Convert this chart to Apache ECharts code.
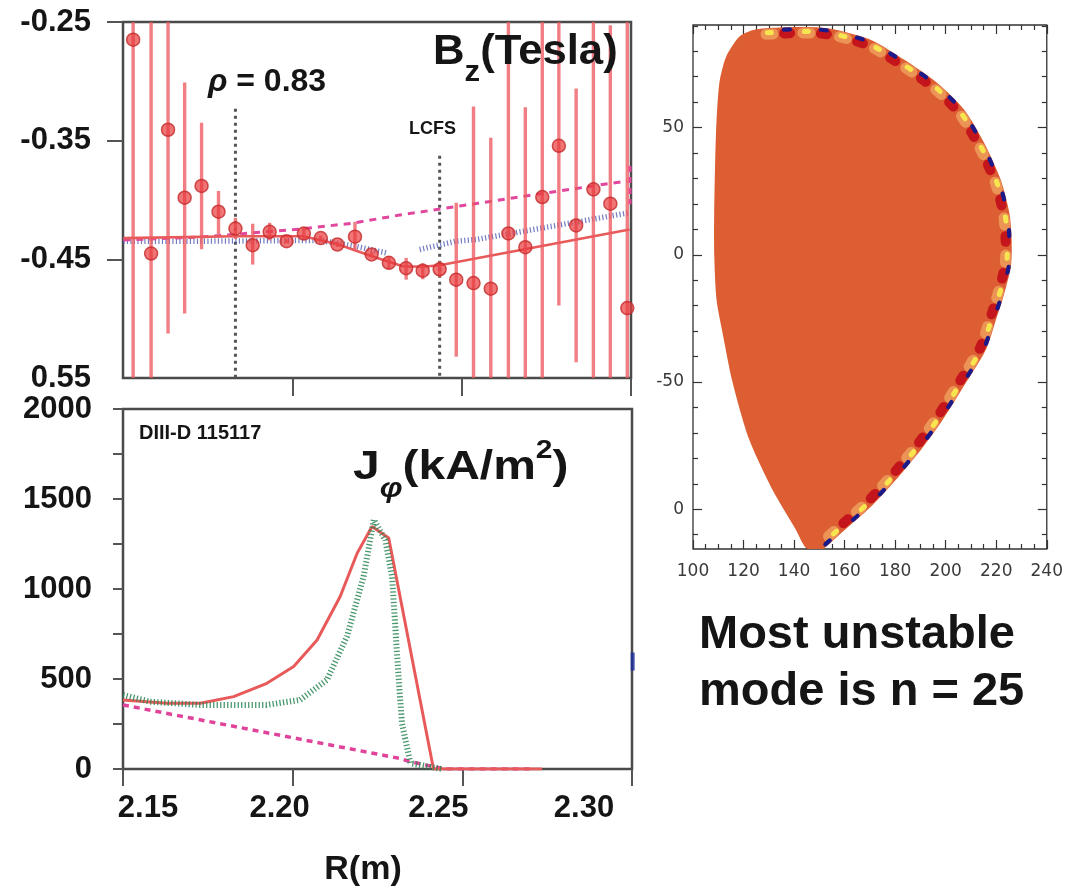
<!DOCTYPE html>
<html><head><meta charset="utf-8">
<script src="https://cdn.jsdelivr.net/npm/echarts@6/dist/echarts.min.js"></script>
<style>html,body{margin:0;padding:0;background:#fff}#c{width:1066px;height:893px}</style>
</head><body><div id="c"></div>
<script>
// ---------- Top panel: Bz (Tesla) ----------
const bzR = [2.1530,2.1583,2.1633,2.1682,2.1732,2.1782,2.1832,2.1883,2.1933,2.1983,2.2034,2.2084,2.2133,2.2185,2.2234,2.2285,2.2336,2.2385,2.2435,2.2484,2.2535,2.2586,2.2638,2.2688,2.2738,2.2787,2.2838,2.2889,2.2939,2.2989];
const bzVal = [-0.2649,-0.4451,-0.3408,-0.3981,-0.3882,-0.4099,-0.4241,-0.4381,-0.4268,-0.4347,-0.4283,-0.4321,-0.4375,-0.4309,-0.4459,-0.4529,-0.4575,-0.4596,-0.4584,-0.4671,-0.4700,-0.4747,-0.4282,-0.4398,-0.3975,-0.3543,-0.4214,-0.3910,-0.4031,-0.4911];
const bzErrLo = [-0.55,-0.55,-0.5125,-0.4956,-0.4415,-0.4288,-0.4330,-0.4544,-0.4340,-0.4365,-0.4338,-0.4340,-0.4395,-0.4431,-0.4480,-0.4584,-0.4671,-0.4668,-0.4651,-0.5320,-0.55,-0.55,-0.55,-0.55,-0.55,-0.4888,-0.5368,-0.55,-0.55,-0.55];
const bzErrHi = [-0.25,-0.25,-0.25,-0.3010,-0.3349,-0.3924,-0.4150,-0.4200,-0.4192,-0.4330,-0.4228,-0.4300,-0.4355,-0.4184,-0.4440,-0.4474,-0.4488,-0.4533,-0.4516,-0.4023,-0.3213,-0.3475,-0.25,-0.3219,-0.25,-0.25,-0.3061,-0.25,-0.2528,-0.25];
const fitSolidR = [2.1501,2.1831,2.2032,2.2132,2.2235,2.2326,2.2385,2.2435,2.2996];
const fitSolidBz = [-0.4321,-0.4305,-0.4305,-0.4370,-0.4474,-0.4558,-0.4563,-0.4550,-0.4248];
const fitDashR = [2.1501,2.1728,2.1875,2.2023,2.2179,2.2317,2.2494,2.2729,2.2989];
const fitDashBz = [-0.4338,-0.4313,-0.4279,-0.4245,-0.4195,-0.4127,-0.4051,-0.3949,-0.3839];
const edgeDashR = [2.2997,2.2997];
const edgeDashBz = [-0.3713,-0.4035];
const fitDotR = [2.1501,2.1728,2.2082,2.2185,2.2278,2.2330,2.2376,2.2484,2.2543,2.2996];
const fitDotBz = [-0.4347,-0.4347,-0.4341,-0.4389,-0.4446,null,-0.4417,-0.4347,-0.4333,-0.4107];
const rhoLineR = [2.1832,2.1832];
const rhoLineBz = [-0.3230,-0.55];
const lcfsLineR = [2.2435,2.2435];
const lcfsLineBz = [-0.3628,-0.55];
const topYTicks = [-0.55,-0.45,-0.35,-0.25];
const topYTickLabels = ['0.55','-0.45','-0.35','-0.25'];

// ---------- Bottom panel: J_phi (kA/m^2) ----------
const jSolidR = [2.1500,2.1630,2.1728,2.1826,2.1924,2.2003,2.2072,2.2140,2.2190,2.2234,2.2283,2.2415,2.2735];
const jSolid = [384,365,365,402,476,569,717,958,1199,1347,1283,0,0];
const jDotR = [2.1500,2.1580,2.1728,2.1924,2.2022,2.2101,2.2160,2.2209,2.2239,2.2273,2.2293,2.2308,2.2322,2.2347,2.2440];
const jDot = [411,374,356,356,384,495,736,1069,1385,1273,1069,624,254,32,0];
const jDashR = [2.1500,2.2315,2.2345,2.2415,2.2450,2.2705];
const jDash = [356,59,41,13,0,0];
const blueMarkR = [2.3002];
const blueMarkJ = [597];
const bottomXTicks = [2.15,2.20,2.25,2.30];
const bottomXTickLabels = ['2.15','2.20','2.25','2.30'];
const bottomYTicks = [0,500,1000,1500,2000];
const bottomYTickLabels = ['0','500','1000','1500','2000'];

// ---------- Right panel: plasma cross-section (R, Z in cm) ----------
const plasmaR = [118.2,123.4,128.8,140.5,150.6,157.6,170.7,183.8,196.9,207.4,215.3,221.8,225.2,226.1,225.8,222.5,219.9,215.9,208.0,198.9,190.3,180.5,170.7,158.9,152.3,149.6,144.6,140.6,131.4,122.2,115.7,111.7,109.3,108.4,108.4,109.1,110.4,113.1];
const plasmaZ = [85.6,88.2,89.0,89.5,89.3,88.2,84.3,76.5,67.3,56.9,43.8,29.4,16.4,5.9,-4.6,-17.6,-25.5,-37.3,-50.3,-64.7,-76.5,-88.2,-98.7,-109.1,-115.0,-117.0,-115.0,-107.8,-92.2,-72.5,-50.3,-30.7,-17.6,0,16.3,47.7,67.3,77.8];
const modeEdgeR = [128.8,140.5,150.6,157.6,170.7,183.8,196.9,207.4,215.3,221.8,225.2,226.1,225.8,222.5,219.9,215.9,208.0,198.9,190.3,180.5,170.7,158.9,152.3];
const modeEdgeZ = [89.0,89.5,89.3,88.2,84.3,76.5,67.3,56.9,43.8,29.4,16.4,5.9,-4.6,-17.6,-25.5,-37.3,-50.3,-64.7,-76.5,-88.2,-98.7,-109.1,-115.0];
const rightXTicks = [100,120,140,160,180,200,220,240];
const rightYTicks = [-100,-50,0,50];
const rightYTickLabels = ['0','-50','0','50'];

// ---------------------------------------------------------------------
const FONT = "'Liberation Sans', Arial, Helvetica, sans-serif";
const pairs = (xs, ys) => xs.map((x, i) => [x, ys[i] === null ? '-' : ys[i]]);
const rightXMinor = []; for (let v = 100; v <= 240; v += 5) if (v % 20) rightXMinor.push(v);
const rightYMinor = []; for (let v = -110; v <= 90; v += 10) if (v % 50) rightYMinor.push(v);
const labelOf = (ticks, labels) => v => labels[ticks.findIndex(t => Math.abs(t - v) < 1e-6)] ?? '';

const mctx = document.createElement('canvas').getContext('2d');
function seq(x0, base, pieces, stretch) {
  const s = stretch || 1;
  const out = []; let x = x0;
  pieces.forEach(p => {
    const font = (p.italic ? 'italic ' : '') + 'bold ' + p.size + 'px ' + FONT;
    mctx.font = font;
    const w = mctx.measureText(p.t).width * s;
    out.push({type: 'text', x: x + (p.dx || 0), y: base + (p.dy || 0) - 0.35 * p.size, z: 100, scaleX: s,
      style: {text: p.t, font: font, fill: '#151515', textAlign: 'left', textVerticalAlign: 'middle', align: 'left', verticalAlign: 'middle'}});
    x += w + (p.dx || 0);
  });
  return out;
}

const bottomXLabelShift = [25, -13, -24, -48];
const richBottom = {};
bottomXLabelShift.forEach((s, i) => {
  richBottom['o' + i] = {fontSize: 31, fontWeight: 'bold', fontFamily: FONT, color: '#151515',
    padding: s > 0 ? [0, 0, 0, 2 * s] : [0, -2 * s, 0, 0]};
});

const chart = echarts.init(document.getElementById('c'), null, {renderer: 'canvas'});
const tickLbl = {fontSize: 31, fontWeight: 'bold', fontFamily: FONT, color: '#151515'};
const rightLbl = {fontSize: 17, fontFamily: "'DejaVu Sans', sans-serif", color: '#3a3a3a'};
const rightTick = {show: true, inside: true, length: 9, lineStyle: {color: '#333', width: 1.2}};
const rightMinorTick = {show: true, inside: true, length: 5, lineStyle: {color: '#333', width: 1.2}};
const noLine = {show: false, onZero: false};

const option = {
  animation: false,
  backgroundColor: '#fff',
  grid: [
    {left: 123, top: 22, width: 508, height: 356, show: true, borderColor: '#4a4a4a', borderWidth: 2.5, backgroundColor: 'transparent'},
    {left: 123, top: 409, width: 509, height: 360, show: true, borderColor: '#4a4a4a', borderWidth: 2.5, backgroundColor: 'transparent'},
    {left: 693, top: 25, width: 357, height: 524, show: true, borderColor: '#333', borderWidth: 1.3, backgroundColor: 'transparent'}
  ],
  xAxis: [
    {gridIndex: 0, type: 'value', min: 2.15, max: 2.30, axisLine: noLine, splitLine: {show: false},
      axisLabel: {show: false},
      axisTick: {show: true, length: 18, customValues: [2.20, 2.25, 2.30], lineStyle: {color: '#555', width: 2}}},
    {gridIndex: 1, type: 'value', min: 2.15, max: 2.30, axisLine: noLine, splitLine: {show: false},
      axisTick: {show: true, length: 17, customValues: bottomXTicks, lineStyle: {color: '#555', width: 2}},
      axisLabel: {show: true, customValues: bottomXTicks, margin: 24, ...tickLbl,
        formatter: v => { const i = bottomXTicks.findIndex(t => Math.abs(t - v) < 1e-6); return '{o' + i + '|' + bottomXTickLabels[i] + '}'; },
        rich: richBottom}},
    {gridIndex: 2, type: 'value', position: 'bottom', min: 100, max: 240, axisLine: noLine, splitLine: {show: false},
      axisTick: {...rightTick, customValues: rightXTicks},
      axisLabel: {show: true, customValues: rightXTicks, margin: 14, ...rightLbl, formatter: v => String(v)}},
    {gridIndex: 2, type: 'value', position: 'bottom', min: 100, max: 240, axisLine: noLine, splitLine: {show: false},
      axisTick: {...rightMinorTick, customValues: rightXMinor}, axisLabel: {show: false}},
    {gridIndex: 2, type: 'value', position: 'top', min: 100, max: 240, axisLine: noLine, splitLine: {show: false},
      axisTick: {...rightTick, customValues: rightXTicks}, axisLabel: {show: false}},
    {gridIndex: 2, type: 'value', position: 'top', min: 100, max: 240, axisLine: noLine, splitLine: {show: false},
      axisTick: {...rightMinorTick, customValues: rightXMinor}, axisLabel: {show: false}}
  ],
  yAxis: [
    {gridIndex: 0, type: 'value', min: -0.55, max: -0.25, axisLine: noLine, splitLine: {show: false},
      axisTick: {show: true, length: 16, customValues: [-0.45, -0.35, -0.25], lineStyle: {color: '#555', width: 2}},
      axisLabel: {show: true, customValues: topYTicks, margin: 32, ...tickLbl, formatter: labelOf(topYTicks, topYTickLabels)}},
    {gridIndex: 1, type: 'value', min: 0, max: 2000, interval: 500, axisLine: noLine, splitLine: {show: false},
      axisTick: {show: true, length: 10, lineStyle: {color: '#555', width: 2}},
      minorTick: {show: true, splitNumber: 2, length: 10, lineStyle: {color: '#555', width: 2}},
      minorSplitLine: {show: false},
      axisLabel: {show: true, margin: 31, ...tickLbl, formatter: labelOf(bottomYTicks, bottomYTickLabels)}},
    {gridIndex: 2, type: 'value', position: 'left', min: -115.6, max: 90.3, axisLine: noLine, splitLine: {show: false},
      axisTick: {...rightTick, customValues: rightYTicks},
      axisLabel: {show: true, customValues: rightYTicks, margin: 9, ...rightLbl, formatter: labelOf(rightYTicks, rightYTickLabels)}},
    {gridIndex: 2, type: 'value', position: 'left', min: -115.6, max: 90.3, axisLine: noLine, splitLine: {show: false},
      axisTick: {...rightMinorTick, customValues: rightYMinor}, axisLabel: {show: false}},
    {gridIndex: 2, type: 'value', position: 'right', min: -115.6, max: 90.3, axisLine: noLine, splitLine: {show: false},
      axisTick: {...rightTick, customValues: rightYTicks}, axisLabel: {show: false}},
    {gridIndex: 2, type: 'value', position: 'right', min: -115.6, max: 90.3, axisLine: noLine, splitLine: {show: false},
      axisTick: {...rightMinorTick, customValues: rightYMinor}, axisLabel: {show: false}}
  ],
  series: [
    // ---- top panel ----
    {type: 'line', xAxisIndex: 0, yAxisIndex: 0, data: pairs(rhoLineR, rhoLineBz), symbol: 'none', z: 2,
      lineStyle: {color: '#555', width: 3, type: [3, 4]}},
    {type: 'line', xAxisIndex: 0, yAxisIndex: 0, data: pairs(lcfsLineR, lcfsLineBz), symbol: 'none', z: 2,
      lineStyle: {color: '#555', width: 3, type: [3, 4]}},
    {type: 'line', xAxisIndex: 0, yAxisIndex: 0, data: pairs(fitDotR, fitDotBz), symbol: 'none', connectNulls: false, z: 3,
      lineStyle: {color: '#4f5ab0', width: 5.5, type: [1.2, 2.3], opacity: 0.8}},
    {type: 'line', xAxisIndex: 0, yAxisIndex: 0, data: pairs(fitDashR, fitDashBz), symbol: 'none', z: 3,
      lineStyle: {color: '#e2479e', width: 3, type: [7, 6]}},
    {type: 'line', xAxisIndex: 0, yAxisIndex: 0, data: pairs(edgeDashR, edgeDashBz), symbol: 'none', z: 3,
      lineStyle: {color: '#e2479e', width: 3, type: [6, 5]}},
    {type: 'line', xAxisIndex: 0, yAxisIndex: 0, data: pairs(fitSolidR, fitSolidBz), symbol: 'none', z: 4,
      lineStyle: {color: '#e85a5a', width: 2.6}},
    {type: 'custom', xAxisIndex: 0, yAxisIndex: 0, z: 5, clip: true,
      data: bzR.map((r, i) => [r, bzErrLo[i], bzErrHi[i]]),
      encode: {x: 0, y: [1, 2]},
      renderItem: (params, api) => {
        const a = api.coord([api.value(0), api.value(1)]);
        const b = api.coord([api.value(0), api.value(2)]);
        return {type: 'line', shape: {x1: a[0], y1: a[1], x2: b[0], y2: b[1]},
          style: {stroke: 'rgba(236,90,96,0.78)', lineWidth: 3.4}};
      }},
    {type: 'scatter', xAxisIndex: 0, yAxisIndex: 0, z: 6, data: pairs(bzR, bzVal), symbol: 'circle', symbolSize: 13,
      itemStyle: {color: 'rgba(232,58,60,0.88)', borderColor: '#c42a2a', borderWidth: 1.5}},
    // ---- bottom panel ----
    {type: 'line', xAxisIndex: 1, yAxisIndex: 1, data: pairs(jDashR, jDash), symbol: 'none', z: 3,
      lineStyle: {color: '#e0449a', width: 3.5, type: [6, 5]}},
    {type: 'line', xAxisIndex: 1, yAxisIndex: 1, data: pairs(jSolidR, jSolid), symbol: 'none', z: 4,
      lineStyle: {color: '#e85a5a', width: 3}},
    {type: 'line', xAxisIndex: 1, yAxisIndex: 1, data: pairs(jDotR, jDot), symbol: 'none', z: 5,
      lineStyle: {color: '#2a8553', width: 6, type: [1.3, 2.2], opacity: 0.85}},
    {type: 'scatter', xAxisIndex: 1, yAxisIndex: 1, data: pairs(blueMarkR, blueMarkJ), symbol: 'rect', symbolSize: [4, 18], z: 6,
      clip: false, itemStyle: {color: '#1d2a9c'}},
    // ---- right panel ----
    {type: 'custom', xAxisIndex: 2, yAxisIndex: 2, z: 2, clip: true,
      data: pairs(plasmaR, plasmaZ), encode: {x: 0, y: 1},
      renderItem: (params, api) => {
        if (params.dataIndex !== 0) return null;
        const pts = plasmaR.map((r, i) => api.coord([r, plasmaZ[i]]));
        return {type: 'polygon', shape: {points: pts, smooth: 0.25}, style: {fill: '#dc5e32'}};
      }},
    {type: 'custom', xAxisIndex: 2, yAxisIndex: 2, z: 3, clip: true,
      data: pairs(modeEdgeR, modeEdgeZ), encode: {x: 0, y: 1},
      renderItem: (params, api) => {
        if (params.dataIndex !== 0) return null;
        const pts = modeEdgeR.map((r, i) => api.coord([r, modeEdgeZ[i]]));
        const all = plasmaR.map((r, i) => api.coord([r, plasmaZ[i]]));
        const cx = all.reduce((s, p) => s + p[0], 0) / all.length;
        const cy = all.reduce((s, p) => s + p[1], 0) / all.length;
        const off = d => pts.map((p, i) => {
          const a = pts[Math.max(0, i - 1)], b = pts[Math.min(pts.length - 1, i + 1)];
          const tx = b[0] - a[0], ty = b[1] - a[1], L = Math.hypot(tx, ty) || 1;
          let nx = -ty / L, ny = tx / L;
          if (nx * (cx - p[0]) + ny * (cy - p[1]) < 0) { nx = -nx; ny = -ny; }
          return [p[0] + nx * d, p[1] + ny * d];
        });
        const P = 37;
        const mk = (d, color, w, on, offset, cap) => ({type: 'polyline', shape: {points: off(d), smooth: 0.25},
          style: {fill: 'none', stroke: color, lineWidth: w, lineDash: [on, P - on], lineDashOffset: offset, lineCap: cap || 'butt'}});
        return {type: 'group', children: [
          mk(6, '#ec9356', 11, 7, 0, 'round'),
          mk(4.5, '#f7e64e', 5, 4, -1.5, 'round'),
          mk(6, '#c4141c', 10, 6, -18, 'round'),
          mk(2.2, '#1a1a8a', 4.2, 6, -18, 'round')
        ]};
      }}
  ],
  graphic: [
    ...seq(433, 66.7, [{t: 'B', size: 42}, {t: 'z', size: 30, dy: 16.6}, {t: '(Tesla)', size: 42}], 1.04),
    ...seq(208, 93.3, [{t: 'ρ', size: 32, italic: true}, {t: ' = 0.83', size: 32}]),
    ...seq(409, 135, [{t: 'LCFS', size: 18}]),
    ...seq(139, 440, [{t: 'DIII-D 115117', size: 20}]),
    ...seq(353, 482, [{t: 'J', size: 40}, {t: 'φ', size: 27, italic: true, dy: 17}, {t: '(kA/m', size: 40}, {t: '2', size: 25, dy: -22}, {t: ')', size: 40}], 1.2),
    ...seq(699, 651.7, [{t: 'Most unstable', size: 47}]),
    ...seq(699, 708.3, [{t: 'mode is n = 25', size: 47}]),
    {type: 'text', x: 363, y: 870, z: 100, style: {text: 'R(m)', font: 'bold 34px ' + FONT, fill: '#151515',
      textAlign: 'center', textVerticalAlign: 'middle', align: 'center', verticalAlign: 'middle'}}
  ]
};
chart.setOption(option);
</script>
</body></html>
